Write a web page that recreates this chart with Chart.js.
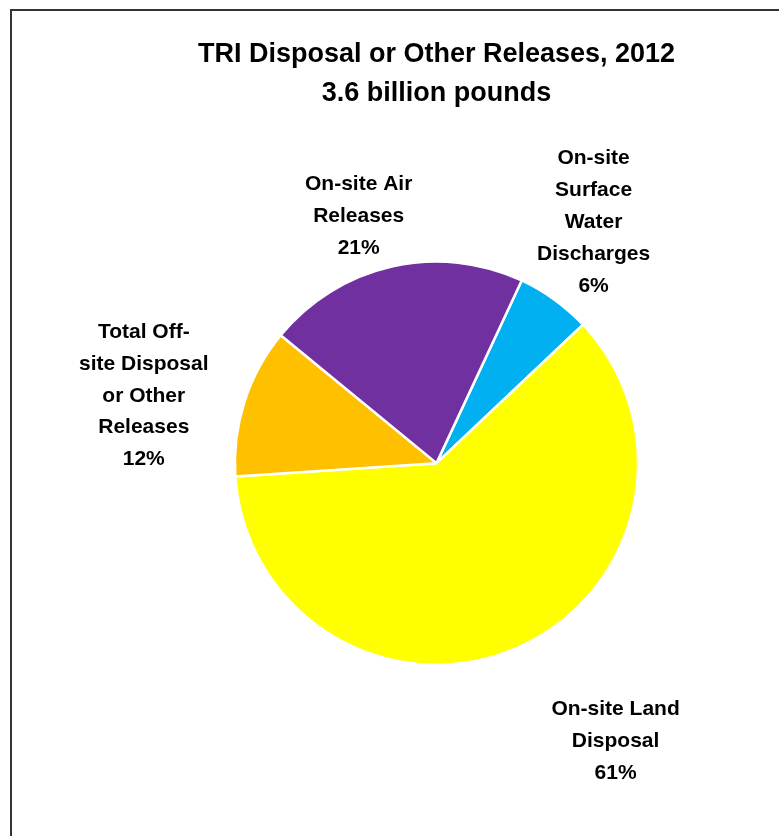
<!DOCTYPE html>
<html>
<head>
<meta charset="utf-8">
<script src="https://cdn.jsdelivr.net/npm/chart.js@4"></script>
<style>
  html, body { margin:0; padding:0; background:#fff; }
  #wrap { position:relative; width:779px; height:836px; overflow:hidden; }
  #frame { position:absolute; left:10px; top:9px; width:800px; height:900px;
           border-top:2px solid #333; border-left:2px solid #333; }
  #chart { position:absolute; left:0; top:0; }
</style>
</head>
<body>
<div id="wrap">
  <div id="frame"></div>
  <canvas id="chart" width="779" height="836"></canvas>
</div>
<script>
// ------------------- Data -------------------
const categories = [
  ["On-site", "Surface", "Water", "Discharges"],
  ["On-site Land", "Disposal"],
  ["Total Off-", "site Disposal", "or Other", "Releases"],
  ["On-site Air", "Releases"]
];
const percents = [6, 61, 12, 21];
const colors = ['#00B0F0', '#FFFF00', '#FFC000', '#7030A0'];

// label placement: distance along slice middle (x radius) + nudge in px
const labelPlace = [
  { k:1.4,  dx:-8,  dy:-12 },
  { k:1.5,  dx:58,  dy:1 },
  { k:1.4,  dx:-24, dy:19 },
  { k:1.25, dx:-22, dy:-1 }
];

const FONT = "'Liberation Sans', Arial, sans-serif";

// ------------------- Labels plugin -------------------
const sliceLabels = {
  id: 'sliceLabels',
  afterDraw(chart){
    const ctx = chart.ctx;
    const arcs = chart.getDatasetMeta(0).data;
    ctx.save();
    ctx.fillStyle = '#000';
    ctx.font = "bold 21px " + FONT;
    ctx.textAlign = 'center';
    ctx.textBaseline = 'middle';
    arcs.forEach((arc, i)=>{
      const p = arc.getProps(['x','y','startAngle','endAngle','outerRadius'], true);
      const mid = (p.startAngle + p.endAngle) / 2;
      const pl = labelPlace[i];
      const cx = p.x + Math.cos(mid) * p.outerRadius * pl.k + pl.dx;
      const cy = p.y + Math.sin(mid) * p.outerRadius * pl.k + pl.dy;
      const lines = categories[i].concat([percents[i] + '%']);
      const lh = 31.8;
      const top = cy - (lines.length - 1) * lh / 2;
      lines.forEach((t, j)=> ctx.fillText(t, cx, top + j * lh));
    });
    ctx.restore();
  }
};

// ------------------- Chart -------------------
new Chart(document.getElementById("chart"), {
  type: 'pie',
  data: {
    labels: categories.map(c=>c.join(' ')),
    datasets: [{
      data: percents,
      backgroundColor: colors,
      borderColor: '#fff',
      borderWidth: 2.5
    }]
  },
  options: {
    responsive: false,
    animation: false,
    rotation: 25,
    layout: { padding: { top: 28, bottom: 170, left: 94, right: 0 } },
    plugins: {
      legend: { display: false },
      tooltip: { enabled: false },
      title: {
        display: true,
        text: ["TRI Disposal or Other Releases, 2012", "3.6 billion pounds"],
        color: '#000',
        font: { family: FONT, size: 27, weight: 'bold', lineHeight: 1.45 },
        padding: { top: 7, bottom: 147 }
      }
    }
  },
  plugins: [sliceLabels]
});
</script>
</body>
</html>
